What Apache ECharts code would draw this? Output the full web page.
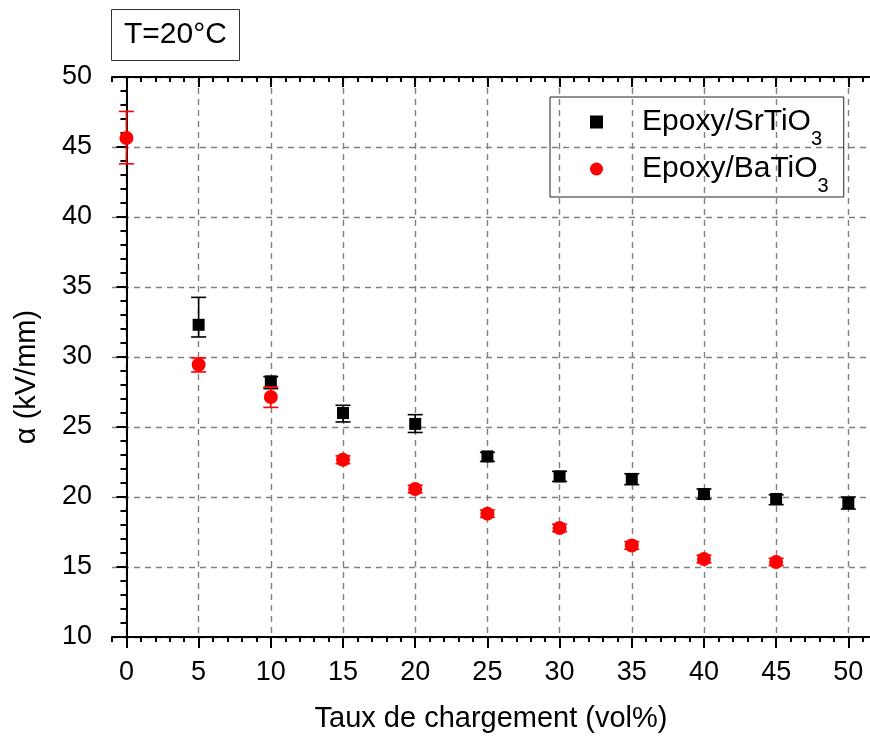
<!DOCTYPE html>
<html><head><meta charset="utf-8">
<script src="https://cdn.jsdelivr.net/npm/echarts@6/dist/echarts.min.js"></script>
<style>html,body{margin:0;padding:0;background:#fff}#c{width:870px;height:742px}</style>
</head><body><div id="c"></div>
<script>
const xVals = [0, 5, 10, 15, 20, 25, 30, 35, 40, 45, 50];
const srMean = [null, 32.3, 28.26, 26.0, 25.22, 22.9, 21.47, 21.29, 20.21, 19.86, 19.57];
const srLow  = [null, 31.43, 27.74, 25.36, 24.61, 22.54, 21.11, 20.88, 19.86, 19.45, 19.14];
const srHigh = [null, 34.26, 28.6, 26.55, 25.88, 23.19, 21.83, 21.66, 20.57, 20.16, 20.0];
const baMean = [45.64, 29.45, 27.14, 22.66, 20.57, 18.81, 17.79, 16.54, 15.57, 15.36, null];
const baLow  = [43.8, 28.93, 26.4, 22.38, 20.3, 18.55, 17.52, 16.27, 15.3, 15.1, null];
const baHigh = [47.54, 29.93, 27.86, 22.94, 20.84, 19.07, 18.06, 16.81, 15.84, 15.62, null];
const xMajor = [0, 5, 10, 15, 20, 25, 30, 35, 40, 45, 50];
const xMinor = [-1, 1, 2, 3, 4, 6, 7, 8, 9, 11, 12, 13, 14, 16, 17, 18, 19, 21, 22, 23, 24, 26, 27, 28, 29, 31, 32, 33, 34, 36, 37, 38, 39, 41, 42, 43, 44, 46, 47, 48, 49, 51];
const seriesNames = ['Epoxy/SrTiO', 'Epoxy/BaTiO'];

const FONT = '"Liberation Sans", Arial, sans-serif';
const pts = (m) => xVals.map((x, i) => [x, m[i]]).filter(p => p[1] != null);
const errs = (lo, hi) => xVals.map((x, i) => [x, lo[i], hi[i]]).filter(p => p[1] != null);

function errRender(color) {
  return function (params, api) {
    const x = api.value(0);
    const p1 = api.coord([x, api.value(1)]);
    const p2 = api.coord([x, api.value(2)]);
    const w = 7.5;
    const st = { stroke: color, lineWidth: 1.6, fill: null };
    return { type: 'group', children: [
      { type: 'line', shape: { x1: p1[0], y1: p1[1], x2: p2[0], y2: p2[1] }, style: st },
      { type: 'line', shape: { x1: p1[0] - w, y1: p1[1], x2: p1[0] + w, y2: p1[1] }, style: st },
      { type: 'line', shape: { x1: p2[0] - w, y1: p2[1], x2: p2[0] + w, y2: p2[1] }, style: st }
    ]};
  };
}

const gridLine = { show: true, lineStyle: { color: '#808080', width: 1.4, type: [6, 5] } };
const chart = echarts.init(document.getElementById('c'));
chart.setOption({
  animation: false,
  backgroundColor: '#fff',
  title: {
    text: 'T=20°C', left: 111, top: 9, padding: [11, 13],
    borderColor: '#333', borderWidth: 1,
    textStyle: { fontFamily: FONT, fontSize: 30, fontWeight: 'normal', color: '#000', lineHeight: 30 }
  },
  legend: {
    orient: 'vertical', left: 550, top: 97,
    padding: [10, 15, 1, 40], itemGap: 5, itemWidth: 13, itemHeight: 13,
    borderColor: '#222', borderWidth: 1,
    data: seriesNames,
    formatter: n => '{a|' + n + '}{s|3}',
    textStyle: {
      rich: {
        a: { fontFamily: FONT, fontSize: 30, lineHeight: 30, color: '#000', padding: [0, 0, 0, 34], verticalAlign: 'middle' },
        s: { fontFamily: FONT, fontSize: 20, lineHeight: 20, color: '#000', padding: [22, 0, 0, 0], verticalAlign: 'top' }
      }
    }
  },
  grid: { left: 112, right: -1, top: 77, bottom: 105 },
  xAxis: [
    { type: 'value', position: 'bottom', min: -1, max: 51.5,
      name: 'Taux de chargement (vol%)', nameLocation: 'middle', nameGap: 67,
      nameTextStyle: { fontFamily: FONT, fontSize: 29, color: '#000' },
      axisLine: { show: true, lineStyle: { color: '#000', width: 2 } },
      axisTick: { show: true, customValues: xMajor, length: 11, lineStyle: { color: '#000', width: 2 } },
      axisLabel: { show: true, customValues: xMajor, margin: 22, fontFamily: FONT, fontSize: 27, color: '#000' },
      splitLine: gridLine },
    { type: 'value', position: 'bottom', min: -1, max: 51.5,
      axisLine: { show: false },
      axisTick: { show: true, customValues: xMinor, length: 5, lineStyle: { color: '#000', width: 2 } },
      axisLabel: { show: false }, splitLine: { show: false } },
    { type: 'value', position: 'top', min: -1, max: 51.5,
      axisLine: { show: true, lineStyle: { color: '#000', width: 2 } },
      axisTick: { show: true, inside: true, customValues: xMajor, length: 10, lineStyle: { color: '#000', width: 2 } },
      axisLabel: { show: false }, splitLine: { show: false } },
    { type: 'value', position: 'top', min: -1, max: 51.5,
      axisLine: { show: false },
      axisTick: { show: true, inside: true, customValues: xMinor, length: 5, lineStyle: { color: '#000', width: 2 } },
      axisLabel: { show: false }, splitLine: { show: false } }
  ],
  yAxis: [
    { type: 'value', position: 'left', min: 10, max: 50, interval: 5,
      axisLine: { show: true, lineStyle: { color: '#000', width: 2 } },
      axisTick: { show: true, length: 10, lineStyle: { color: '#000', width: 2 } },
      minorTick: { show: true, splitNumber: 5, length: 6, lineStyle: { color: '#000', width: 2 } },
      axisLabel: { margin: 20, fontFamily: FONT, fontSize: 27, color: '#000' },
      splitLine: gridLine },
    { type: 'value', position: 'right', min: 10, max: 50, interval: 5,
      axisLine: { show: true, lineStyle: { color: '#000', width: 2 } },
      axisTick: { show: true, inside: true, length: 6, lineStyle: { color: '#000', width: 2 } },
      minorTick: { show: true, splitNumber: 5, length: 3, lineStyle: { color: '#000', width: 2 } },
      axisLabel: { show: false }, splitLine: { show: false } }
  ],
  series: [
    { type: 'custom', name: 'errSr', renderItem: errRender('#000'), data: errs(srLow, srHigh),
      encode: { x: 0, y: [1, 2] }, z: 2, silent: true },
    { type: 'scatter', name: seriesNames[0], symbol: 'rect', symbolSize: 12,
      itemStyle: { color: '#000', opacity: 1 }, data: pts(srMean), z: 3 },
    { type: 'custom', name: 'errBa', renderItem: errRender('#f00'), data: errs(baLow, baHigh),
      encode: { x: 0, y: [1, 2] }, z: 4, silent: true },
    { type: 'scatter', name: seriesNames[1], symbol: 'circle', symbolSize: 14,
      itemStyle: { color: '#f00', opacity: 1 }, data: pts(baMean), z: 5 }
  ],
  graphic: [
    { type: 'text', x: 27, y: 377, rotation: Math.PI / 2,
      style: { text: 'α (kV/mm)', font: '29px ' + FONT, fill: '#000', textAlign: 'center', textVerticalAlign: 'middle' } }
  ]
});
</script></body></html>
